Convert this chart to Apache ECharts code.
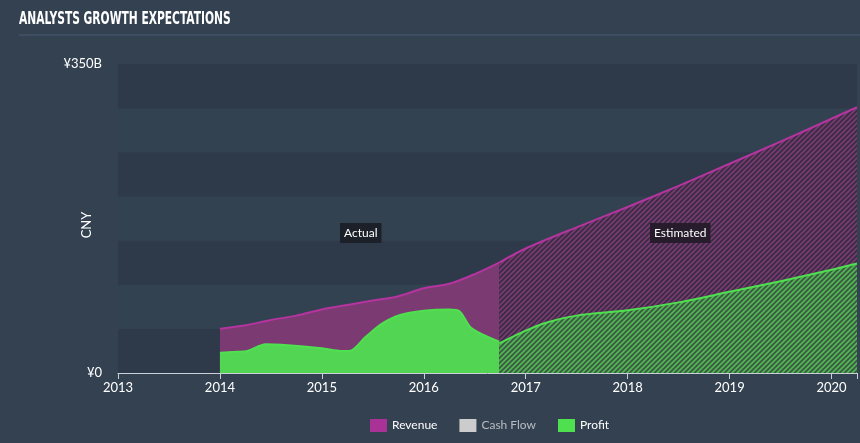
<!DOCTYPE html>
<html>
<head>
<meta charset="utf-8">
<script src="https://cdn.jsdelivr.net/npm/echarts@6/dist/echarts.min.js"></script>
<style>
  html, body { margin: 0; padding: 0; background: #334150; }
  #chart { width: 860px; height: 443px; }
</style>
</head>
<body>
<div id="chart"></div>
<script>
// 数据：年份 (小数) + 数值 (十亿元)
const revActualX = [2014.0, 2014.25, 2014.5, 2014.75, 2015.0, 2015.25, 2015.5, 2015.75, 2016.0, 2016.25, 2016.5, 2016.74];
const revActualY = [50, 54, 60, 65, 72, 77, 82, 87, 96, 101, 112, 125];
const profitActualX = [2014.0, 2014.15, 2014.27, 2014.45, 2014.6, 2015.0, 2015.2, 2015.27, 2015.43, 2015.59, 2015.76, 2016.0, 2016.25, 2016.35, 2016.47, 2016.74];
const profitActualY = [23, 24, 25, 32.5, 32, 28, 25, 25, 41, 56, 65.5, 70.5, 72, 70, 50.5, 35.5];
const revEstX = [2016.74, 2017.0, 2017.5, 2018.0, 2018.5, 2019.0, 2019.5, 2020.0, 2020.25];
const revEstY = [125, 141, 165, 188, 212, 237, 262, 288, 301];
const profitEstX = [2016.74, 2017.0, 2017.2, 2017.5, 2018.0, 2018.5, 2019.0, 2019.5, 2020.0, 2020.25];
const profitEstY = [33.5, 48, 57, 65, 71, 80, 92, 104, 117, 124];
const legendNames = ['Revenue', 'Cash Flow', 'Profit'];
const yTickShown = [0, 350];

// 把两个数组拼成 [x, y]
function pairs(xs, ys){
    let out = [];
    for (let i = 0; i < xs.length; i++){
        out.push([xs[i], ys[i]]);
    }
    return out;
}

// 斜线填充图案
function hatch(bg, fg){
    let c = document.createElement('canvas');
    c.width = 5;
    c.height = 5;
    let ctx = c.getContext('2d');
    ctx.fillStyle = bg;
    ctx.fillRect(0, 0, 5, 5);
    ctx.strokeStyle = fg;
    ctx.lineWidth = 1.6;
    ctx.beginPath();
    ctx.moveTo(-1, 6); ctx.lineTo(6, -1);
    ctx.moveTo(-3.5, 3.5); ctx.lineTo(3.5, -3.5);
    ctx.moveTo(1.5, 8.5); ctx.lineTo(8.5, 1.5);
    ctx.stroke();
    return { image: c, repeat: 'repeat' };
}

const purpleLine = '#b5349f';
const purpleFill = '#7b3a72';
const greenLine = '#4fe04f';
const greenFill = '#52d552';

let myChart = echarts.init(document.getElementById('chart'));
let option = {
    backgroundColor: '#334150',
    animation: false,
    textStyle: { fontFamily: 'Lato' },
    graphic: [
        {
            type: 'text', x: 19, y: 10, scaleX: 0.66,
            style: { text: 'ANALYSTS GROWTH EXPECTATIONS', fill: '#ffffff',
                font: 'bold 18px "DejaVu Sans Condensed", "DejaVu Sans", sans-serif' }
        },
        {
            type: 'line', shape: { x1: 19, y1: 35, x2: 860, y2: 35 },
            style: { stroke: '#4d5f76', lineWidth: 1 }
        },
        {
            type: 'text', x: 87, y: 225, rotation: Math.PI / 2,
            style: { text: 'CNY', fill: '#ffffff', font: '13px Lato',
                align: 'center', verticalAlign: 'middle' }
        },
        {
            type: 'text', left: 340, top: 223, z: 100,
            style: { text: 'Actual', fill: '#ffffff', font: '12px Lato',
                backgroundColor: '#1b2029', padding: [4, 4, 4, 4] }
        },
        {
            type: 'text', left: 650, top: 223, z: 100,
            style: { text: 'Estimated', fill: '#ffffff', font: '12px Lato',
                backgroundColor: '#261c2b', padding: [4, 4, 4, 4] }
        }
    ],
    legend: {
        left: 370, top: 419, padding: 0,
        icon: 'rect', itemWidth: 17, itemHeight: 13, itemGap: 22,
        textStyle: { color: '#ffffff', fontSize: 12, fontFamily: 'Lato' },
        data: [
            { name: legendNames[0] },
            { name: legendNames[1], textStyle: { color: '#b8bcc2' } },
            { name: legendNames[2] }
        ]
    },
    grid: { left: 118, right: 0, top: 64, bottom: 70 },
    xAxis: {
        type: 'value', min: 2013, max: 2020.25, interval: 1,
        axisLine: { lineStyle: { color: '#c9d0d8', width: 1 } },
        axisTick: { show: true, length: 6, lineStyle: { color: '#c9d0d8' } },
        axisLabel: { color: '#ffffff', fontSize: 13, margin: 8,
            formatter: function(v){ return Number.isInteger(v) ? String(v) : ''; } },
        splitLine: { show: false }
    },
    yAxis: {
        type: 'value', min: 0, max: 350, interval: 50,
        axisLine: { show: false }, axisTick: { show: false },
        axisLabel: { color: '#ffffff', fontSize: 13, margin: 16,
            formatter: function(v){
                if (v === yTickShown[0]) return '¥0';
                if (v === yTickShown[1]) return '¥350B';
                return '';
            } },
        splitLine: { show: false },
        splitArea: { show: true, areaStyle: { color: ['#2e3a49', '#334251'] } }
    },
    series: [
        {
            name: 'Revenue', type: 'line', smooth: 0.3, symbol: 'none',
            data: pairs(revActualX, revActualY),
            itemStyle: { color: '#a93296' },
            lineStyle: { color: purpleLine, width: 2 },
            areaStyle: { color: purpleFill, opacity: 1 }, z: 2
        },
        {
            name: 'Revenue', type: 'line', smooth: 0.3, symbol: 'none',
            data: pairs(revEstX, revEstY),
            itemStyle: { color: '#a93296' },
            lineStyle: { color: purpleLine, width: 2 },
            areaStyle: { color: hatch('#3b2d45', '#7a3a72'), opacity: 1 }, z: 2
        },
        {
            name: 'Cash Flow', type: 'line', symbol: 'none', data: [],
            itemStyle: { color: '#cccccc' }
        },
        {
            name: 'Profit', type: 'line', smooth: 0.3, symbol: 'none',
            data: pairs(profitActualX, profitActualY),
            itemStyle: { color: '#4fe04f' },
            lineStyle: { color: greenLine, width: 2 },
            areaStyle: { color: greenFill, opacity: 1 }, z: 3
        },
        {
            name: 'Profit', type: 'line', smooth: 0.3, symbol: 'none',
            data: pairs(profitEstX, profitEstY),
            itemStyle: { color: '#4fe04f' },
            lineStyle: { color: greenLine, width: 2 },
            areaStyle: { color: hatch('#3c5a45', '#52b852'), opacity: 1 }, z: 3
        }
    ]
};
myChart.setOption(option);
</script>
</body>
</html>
